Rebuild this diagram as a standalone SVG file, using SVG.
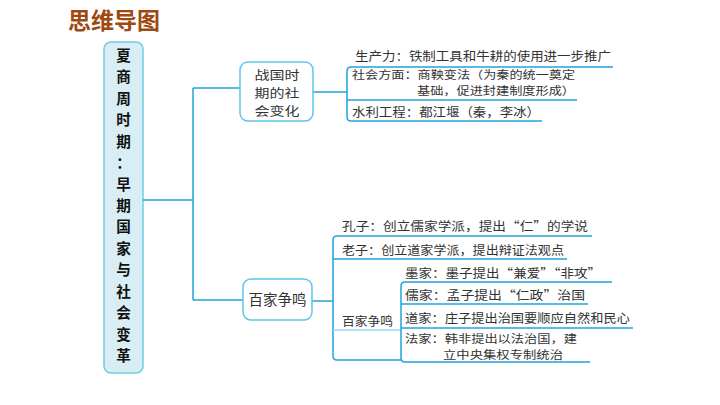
<svg xmlns="http://www.w3.org/2000/svg" width="720" height="405" viewBox="0 0 720 405">
<style>
.t{font-family:"Noto Sans CJK SC","Noto Sans",sans-serif;fill:#333;font-size:12.5px}
.t2{font-family:"Noto Sans CJK SC","Noto Sans",sans-serif;fill:#333;font-size:11px}
.bx{font-family:"Noto Sans CJK SC","Noto Sans",sans-serif;fill:#333;text-anchor:middle}
.mt{font-family:"Noto Sans CJK SC","Noto Sans",sans-serif;fill:#111;font-weight:700;font-size:14.6px;text-anchor:middle}
.ln{fill:none;stroke:#1fa4dc;stroke-width:1.5}
.lt{fill:none;stroke:#8fd8f0;stroke-width:1.5}
</style>
<rect width="720" height="405" fill="#fff"/>
<text x="68" y="29" style="font-family:'Noto Sans CJK SC',sans-serif;font-weight:700;font-size:23px;fill:#9c4a10">思维导图</text>

<g id="main">
<rect x="104" y="42" width="39" height="331" rx="7" fill="#d8edf4" stroke="#6fcbe8" stroke-width="1.5"/>
<text class="mt"><tspan x="123.5" y="61">夏</tspan><tspan x="123.5" y="82.4">商</tspan><tspan x="123.5" y="103.8">周</tspan><tspan x="123.5" y="125.3">时</tspan><tspan x="123.5" y="146.7">期</tspan><tspan x="123.5" y="168.1">：</tspan><tspan x="123.5" y="189.6">早</tspan><tspan x="123.5" y="211">期</tspan><tspan x="123.5" y="232.4">国</tspan><tspan x="123.5" y="253.9">家</tspan><tspan x="123.5" y="275.3">与</tspan><tspan x="123.5" y="296.7">社</tspan><tspan x="123.5" y="318.1">会</tspan><tspan x="123.5" y="339.6">变</tspan><tspan x="123.5" y="361">革</tspan></text>
</g>

<g id="connectors">
<path class="ln" d="M143,200 H193 M193,88 V300 M193,88 H240 M193,300 H243"/>
<path class="ln" d="M313,92 H347"/>
<path class="ln" d="M613,67 H351 Q347,67 347,71 V117 Q347,121 351,121 H542"/>
<path class="ln" d="M347,100 H577"/>
<path class="ln" d="M312,301 H333"/>
<path class="ln" d="M592,236 H337 Q333,236 333,240 V356 Q333,360 337,360 H401"/>
<path class="ln" d="M333,259 H567"/>
<path class="lt" d="M333,330 H401"/>
<path class="ln" d="M612,282 H405 Q401,282 401,286 V358 Q401,362 405,362 H590"/>
<path class="ln" d="M401,304 H588"/>
<path class="ln" d="M401,328 H633"/>
</g>

<g id="box-zhanguo">
<rect x="240" y="62" width="73" height="59" rx="8" fill="#fff" stroke="#5cc6ea" stroke-width="1.5"/>
<text class="bx" font-size="12.3"><tspan x="277" y="79.7" textLength="45" lengthAdjust="spacingAndGlyphs">战国时</tspan><tspan x="277" y="97.7" textLength="45" lengthAdjust="spacingAndGlyphs">期的社</tspan><tspan x="277" y="115.7" textLength="45" lengthAdjust="spacingAndGlyphs">会变化</tspan></text>
</g>

<g id="item-shengchanli">
<text class="t" x="355" y="61" textLength="256" lengthAdjust="spacingAndGlyphs">生产力：铁制工具和牛耕的使用进一步推广</text>
</g>
<g id="item-shehui">
<text class="t2"><tspan x="352" y="78.5" textLength="223" lengthAdjust="spacingAndGlyphs">社会方面：商鞅变法（为秦的统一奠定</tspan><tspan x="417" y="94.5" textLength="158" lengthAdjust="spacingAndGlyphs">基础，促进封建制度形成）</tspan></text>
</g>
<g id="item-shuili">
<text class="t" x="352" y="117" textLength="188" lengthAdjust="spacingAndGlyphs">水利工程：都江堰（秦，李冰）</text>
</g>

<g id="box-baijia">
<rect x="243" y="279" width="69" height="41" rx="8" fill="#fff" stroke="#5cc6ea" stroke-width="1.5"/>
<text class="bx" x="277.5" y="305" font-size="14.5">百家争鸣</text>
</g>

<g id="item-kongzi">
<text class="t" x="342" y="231" textLength="246" lengthAdjust="spacingAndGlyphs">孔子：创立儒家学派，提出“仁”的学说</text>
</g>
<g id="item-laozi">
<text class="t" x="342" y="255" textLength="222" lengthAdjust="spacingAndGlyphs">老子：创立道家学派，提出辩证法观点</text>
</g>
<g id="sub-baijia">
<text class="t" x="342" y="326" textLength="51" lengthAdjust="spacingAndGlyphs">百家争鸣</text>
</g>
<g id="item-mojia">
<text class="t" x="405" y="278" textLength="196" lengthAdjust="spacingAndGlyphs">墨家：墨子提出“兼爱”“非攻”</text>
</g>
<g id="item-rujia">
<text class="t" x="405" y="300" textLength="180" lengthAdjust="spacingAndGlyphs">儒家：孟子提出“仁政”治国</text>
</g>
<g id="item-daojia">
<text class="t" x="405" y="323" textLength="225" lengthAdjust="spacingAndGlyphs">道家：庄子提出治国要顺应自然和民心</text>
</g>
<g id="item-fajia">
<text class="t2"><tspan x="405" y="343" textLength="172" lengthAdjust="spacingAndGlyphs">法家：韩非提出以法治国，建</tspan><tspan x="443" y="359" textLength="120" lengthAdjust="spacingAndGlyphs">立中央集权专制统治</tspan></text>
</g>
</svg>
